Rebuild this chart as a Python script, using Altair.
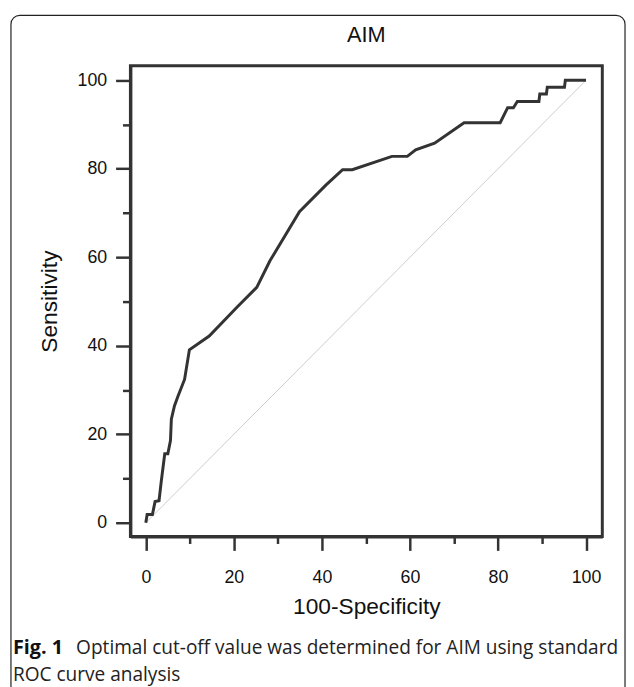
import altair as alt
import pandas as pd

# ROC curve points (100-Specificity, Sensitivity)
fpr = [0, 0.3, 1.5, 2.1, 3.0, 3.5, 4.3, 5.0, 5.6, 5.8, 6.5, 7.3, 8.8, 9.9, 14.4,
       20.7, 25.2, 28.2, 34.9, 40.9, 44.7, 46.9, 55.9, 59.4, 61.3, 65.6, 72.3,
       80.5, 82.2, 83.5, 84.4, 89.3, 89.5, 91.0, 91.2, 95.1, 95.3, 100]
sens = [0, 1.9, 1.9, 4.8, 5.0, 9.3, 15.6, 15.6, 18.6, 23.4, 26.4, 28.6, 32.4,
        39.1, 42.2, 48.7, 53.2, 59.2, 70.3, 76.3, 79.8, 79.8, 82.8, 82.8, 84.3,
        85.8, 90.4, 90.4, 93.8, 93.8, 95.2, 95.2, 96.9, 96.9, 98.4, 98.4, 100, 100]
diag_x = [0, 100]
diag_y = [0, 100]
tick_values = list(range(0, 101, 5))

title_text = "AIM"
x_title = "100-Specificity"
y_title = "Sensitivity"
caption_bold = "Fig. 1"
caption_line1 = "Optimal cut-off value was determined for AIM using standard"
caption_line2 = "ROC curve analysis"

roc = pd.DataFrame({"x": fpr, "y": sens, "i": range(len(fpr))})
diag = pd.DataFrame({"x": diag_x, "y": diag_y})

AX = "#333333"
FONT = "Liberation Sans"
major = "datum.value % 20 === 0"

xscale = alt.Scale(domain=[-3.5, 103.7], nice=False, zero=False)
yscale = alt.Scale(domain=[-3.1, 103.3], nice=False, zero=False)

xaxis = alt.Axis(
    values=tick_values,
    labelExpr="datum.value % 20 === 0 ? datum.label : ''",
    tickSize={"condition": {"test": major, "value": 14}, "value": 7},
    tickWidth=2.5, tickColor=AX,
    domainColor=AX, domainWidth=3,
    grid=False,
    labelFont=FONT, labelFontSize=18, labelColor="#111", labelPadding=19,
    labelFlush=False, labelOverlap=False,
    title=x_title, titleFont=FONT, titleFontSize=23, titleFontWeight="normal",
    titleColor="#111", titlePadding=9,
)
yaxis = alt.Axis(
    values=tick_values,
    labelExpr="datum.value % 20 === 0 ? datum.label : ''",
    tickSize={"condition": {"test": major, "value": 15}, "value": 8},
    tickWidth=2.5, tickColor=AX,
    domainColor=AX, domainWidth=3,
    grid=False,
    labelFont=FONT, labelFontSize=18, labelColor="#111", labelPadding=9,
    labelFlush=False, labelOverlap=False,
    title=y_title, titleFont=FONT, titleFontSize=23, titleFontWeight="normal",
    titleColor="#111", titlePadding=16,
)

diag_layer = alt.Chart(diag).mark_line(color="#cccccc", strokeWidth=1).encode(
    x=alt.X("x:Q", scale=xscale, axis=xaxis),
    y=alt.Y("y:Q", scale=yscale, axis=yaxis),
)

roc_layer = alt.Chart(roc).mark_line(color="#333333", strokeWidth=3,
                                     strokeJoin="miter").encode(
    x=alt.X("x:Q", scale=xscale),
    y=alt.Y("y:Q", scale=yscale),
    order="i:O",
)

one = alt.Data(values=[{"a": 1}])

border = alt.Chart(one).mark_rect(
    fill=None, fillOpacity=0, stroke="#222222", strokeWidth=1.2, cornerRadius=9
).encode(
    x=alt.value(-121), x2=alt.value(501), y=alt.value(-51), y2=alt.value(720)
)

title_mark = alt.Chart(one).mark_text(
    text=title_text, font=FONT, fontSize=22, align="center", baseline="middle",
    color="#111"
).encode(x=alt.value(239), y=alt.value(-31))

cap_font = "Open Sans"
cap_bold = alt.Chart(one).mark_text(
    text=caption_bold, font=cap_font, fontWeight="bold", fontSize=20,
    align="left", baseline="middle", color="#111"
).encode(x=alt.value(-119), y=alt.value(590))
cap_l1 = alt.Chart(one).mark_text(
    text=caption_line1, font=cap_font, fontSize=19.3,
    align="left", baseline="middle", color="#222"
).encode(x=alt.value(-55), y=alt.value(590))
cap_l2 = alt.Chart(one).mark_text(
    text=caption_line2, font=cap_font, fontSize=19.3,
    align="left", baseline="middle", color="#222"
).encode(x=alt.value(-119), y=alt.value(617))

chart = alt.layer(diag_layer, roc_layer, border, title_mark,
                  cap_bold, cap_l1, cap_l2).properties(
    width=478, height=477,
    autosize=alt.AutoSizeParams(type="none"),
    padding={"left": 124, "top": 54, "right": 24, "bottom": 148},
).configure_view(stroke=AX, strokeWidth=3)

chart.save("out.html", embed_options={"renderer": "svg", "actions": False})
